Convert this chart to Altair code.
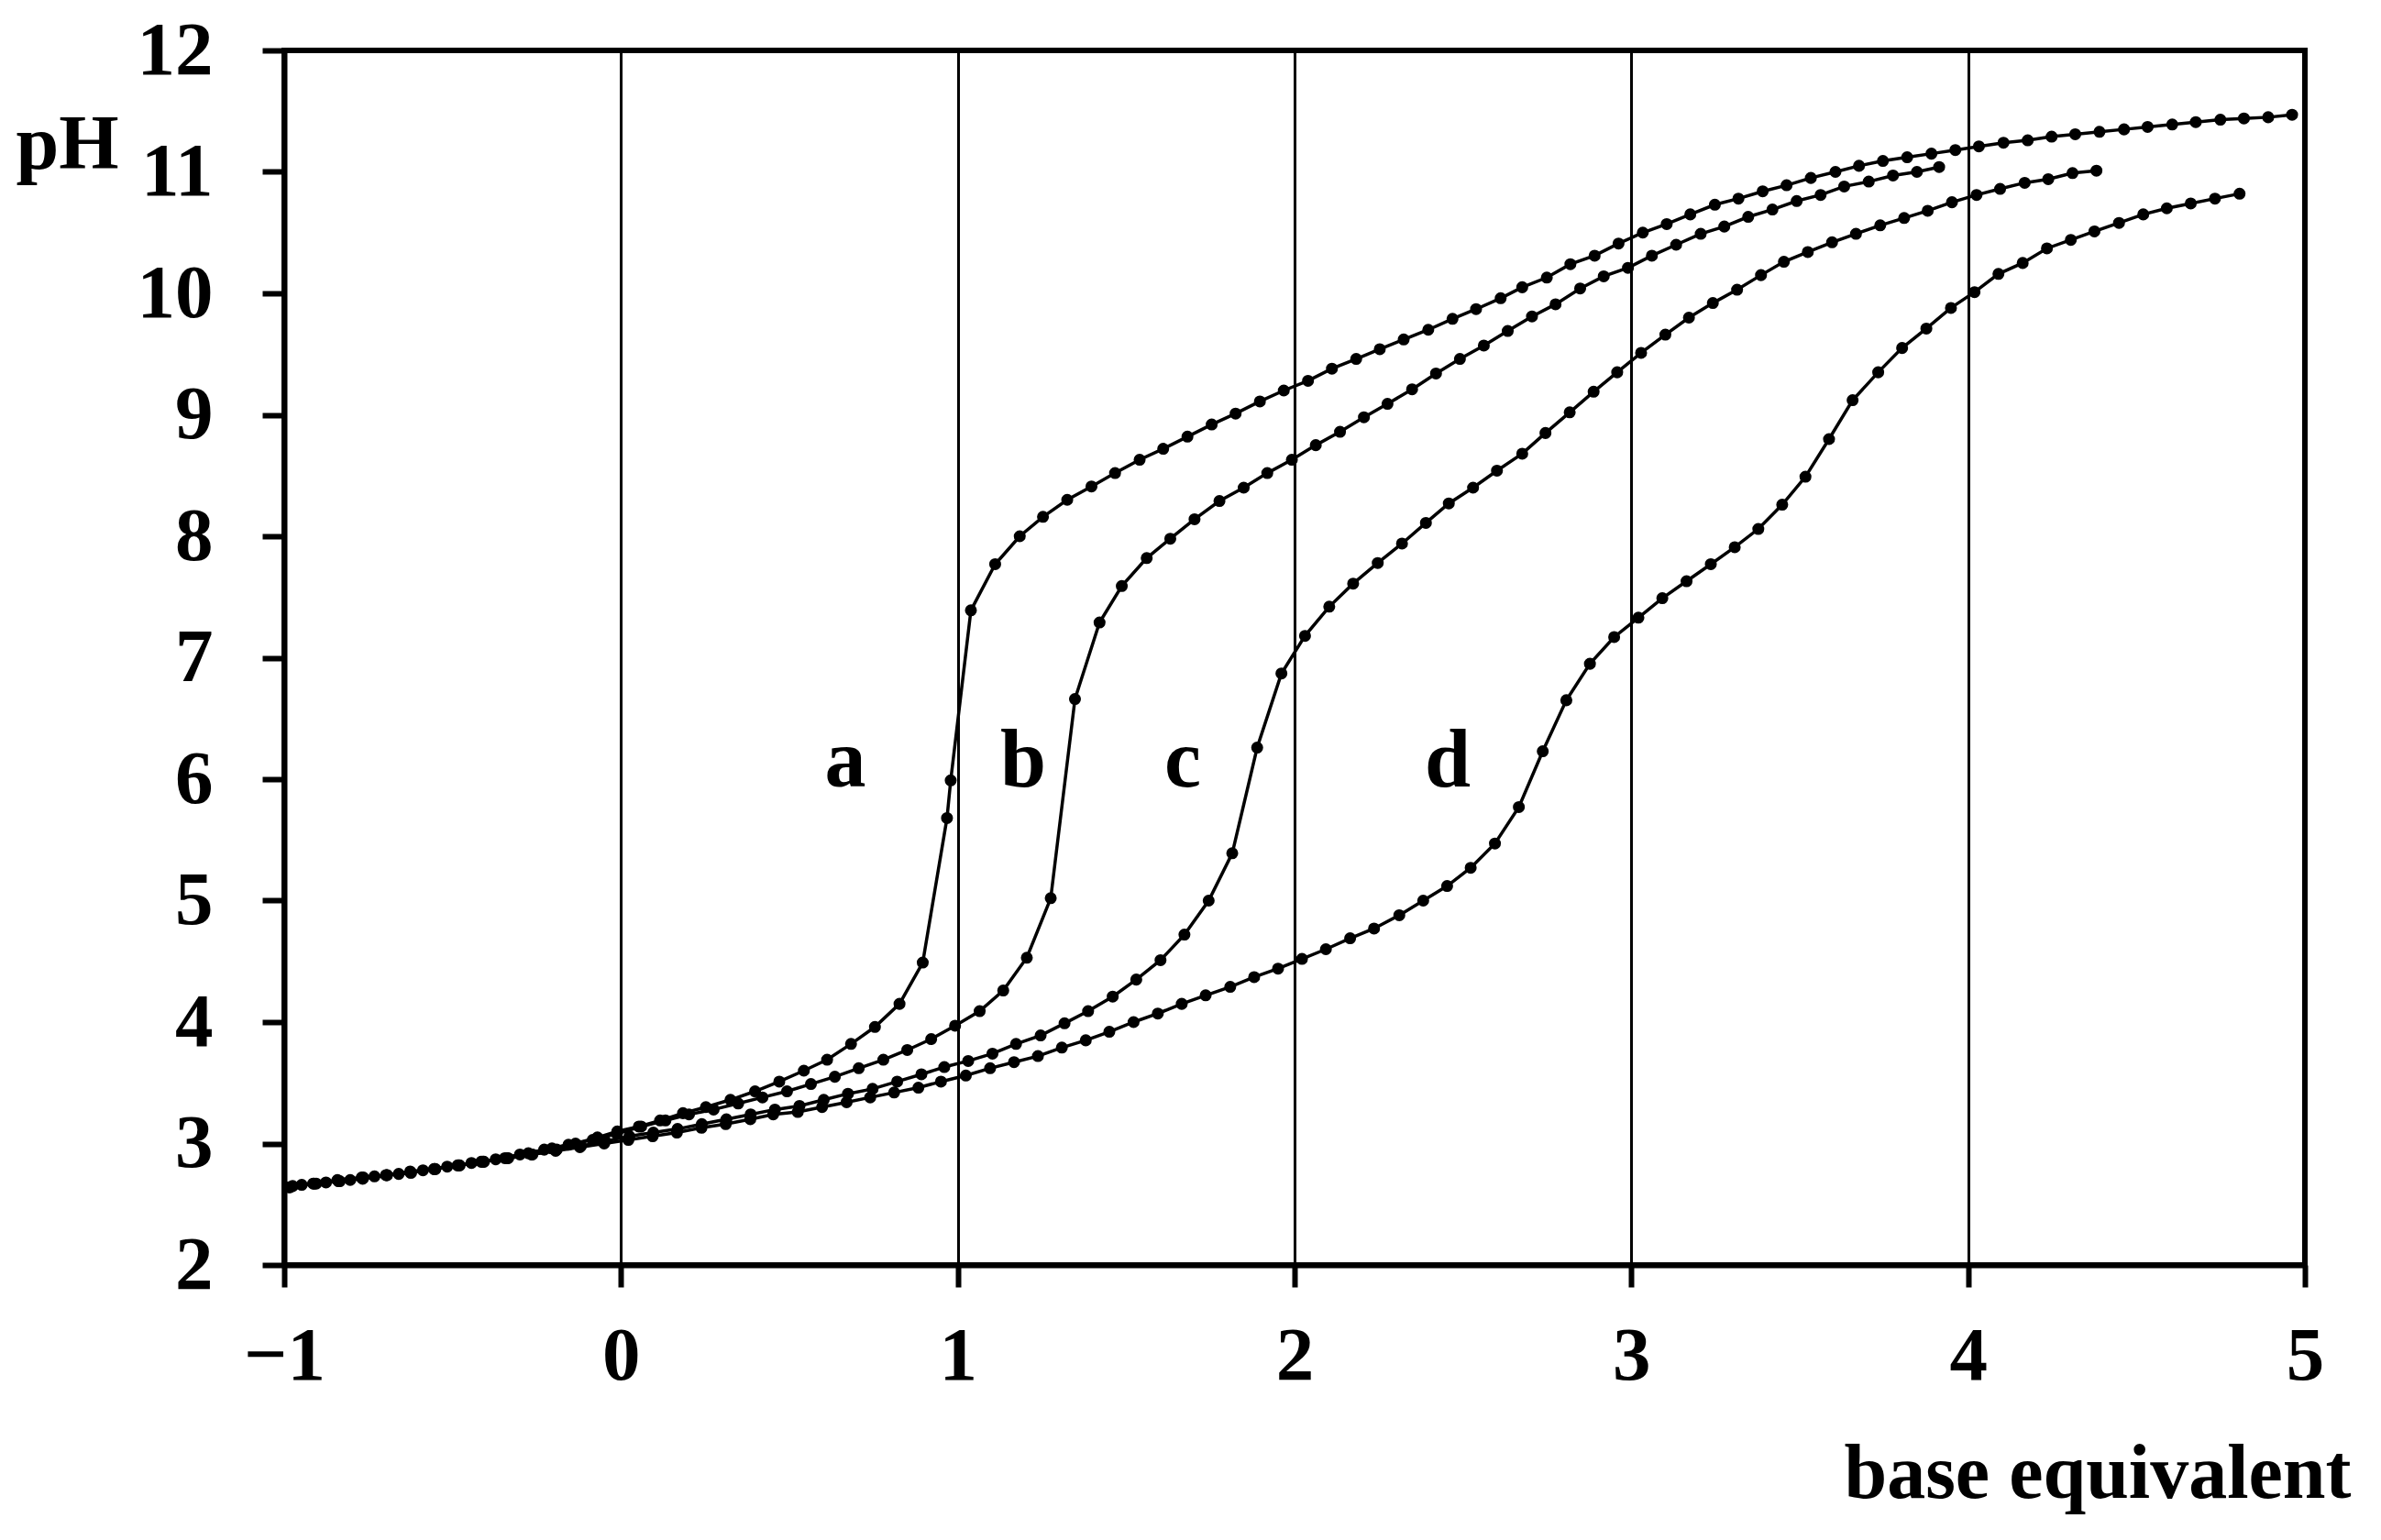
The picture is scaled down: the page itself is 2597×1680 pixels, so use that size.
import altair as alt
import pandas as pd

# ---- data ----
a_x = [-0.975, -0.905, -0.835, -0.765, -0.695, -0.625, -0.555, -0.485, -0.415, -0.345,
       -0.275, -0.205, -0.135, -0.07, -0.011, 0.053, 0.116, 0.184, 0.252, 0.325,
       0.398, 0.470, 0.543, 0.612, 0.683, 0.754, 0.827, 0.896, 0.968, 0.979,
       1.039, 1.111, 1.184, 1.253, 1.325, 1.397, 1.467, 1.540, 1.610, 1.682,
       1.754, 1.825, 1.897, 1.968, 2.040, 2.111, 2.183, 2.253, 2.324, 2.397,
       2.469, 2.539, 2.612, 2.676, 2.749, 2.819, 2.891, 2.962, 3.034, 3.105,
       3.175, 3.248, 3.318, 3.390, 3.461, 3.533, 3.606, 3.676, 3.747, 3.819,
       3.891, 3.962, 4.032, 4.105, 4.177, 4.248, 4.318, 4.390, 4.463, 4.533,
       4.606, 4.676, 4.749, 4.819, 4.891, 4.962]
a_ph = [2.65, 2.67, 2.69, 2.72, 2.74, 2.76, 2.79, 2.82, 2.85, 2.88,
        2.92, 2.96, 3.00, 3.05, 3.10, 3.14, 3.19, 3.25, 3.30, 3.36,
        3.43, 3.51, 3.60, 3.69, 3.82, 3.96, 4.15, 4.49, 5.68, 5.99,
        7.39, 7.77, 8.00, 8.16, 8.30, 8.41, 8.52, 8.63, 8.72, 8.82,
        8.92, 9.01, 9.11, 9.20, 9.28, 9.38, 9.46, 9.54, 9.62, 9.70,
        9.79, 9.87, 9.96, 10.05, 10.13, 10.24, 10.31, 10.41, 10.50, 10.57,
        10.65, 10.73, 10.78, 10.84, 10.89, 10.95, 11.00, 11.05, 11.09, 11.12,
        11.15, 11.18, 11.21, 11.24, 11.26, 11.29, 11.31, 11.33, 11.35, 11.37,
        11.39, 11.41, 11.43, 11.44, 11.45, 11.47]

b_x = [-0.948, -0.876, -0.804, -0.732, -0.660, -0.588, -0.516, -0.444, -0.372, -0.300,
       -0.228, -0.156, -0.084, -0.012, 0.060, 0.132, 0.202, 0.275, 0.348, 0.420,
       0.493, 0.564, 0.635, 0.706, 0.779, 0.850, 0.921, 0.992, 1.065, 1.135,
       1.205, 1.276, 1.348, 1.421, 1.487, 1.561, 1.631, 1.703, 1.777, 1.849,
       1.919, 1.992, 2.063, 2.135, 2.206, 2.276, 2.349, 2.420, 2.491, 2.562,
       2.633, 2.705, 2.775, 2.848, 2.918, 2.990, 3.061, 3.133, 3.206, 3.276,
       3.347, 3.419, 3.491, 3.562, 3.632, 3.705, 3.777, 3.848, 3.914]
b_ph = [2.66, 2.68, 2.70, 2.73, 2.75, 2.78, 2.81, 2.84, 2.87, 2.91,
        2.95, 2.99, 3.03, 3.08, 3.14, 3.19, 3.24, 3.28, 3.33, 3.38,
        3.43, 3.49, 3.55, 3.62, 3.69, 3.77, 3.86, 3.97, 4.09, 4.26,
        4.53, 5.02, 6.66, 7.29, 7.59, 7.82, 7.98, 8.14, 8.29, 8.40,
        8.52, 8.63, 8.75, 8.86, 8.98, 9.09, 9.21, 9.34, 9.46, 9.57,
        9.69, 9.81, 9.91, 10.04, 10.14, 10.21, 10.31, 10.40, 10.49, 10.55,
        10.63, 10.69, 10.76, 10.81, 10.88, 10.92, 10.97, 11.00, 11.04]

c_x = [-0.983, -0.911, -0.839, -0.767, -0.695, -0.623, -0.551, -0.479, -0.407, -0.335,
       -0.263, -0.191, -0.119, -0.047, 0.025, 0.096, 0.168, 0.240, 0.313, 0.385,
       0.457, 0.530, 0.602, 0.674, 0.747, 0.820, 0.892, 0.960, 1.031, 1.103,
       1.173, 1.246, 1.317, 1.387, 1.460, 1.530, 1.602, 1.673, 1.745, 1.815,
       1.889, 1.961, 2.031, 2.103, 2.174, 2.247, 2.319, 2.390, 2.458, 2.530,
       2.601, 2.676, 2.745, 2.817, 2.888, 2.958, 3.029, 3.101, 3.171, 3.242,
       3.314, 3.385, 3.453, 3.524, 3.596, 3.667, 3.739, 3.810, 3.880, 3.952,
       4.025, 4.095, 4.168, 4.238, 4.310, 4.381]
c_ph = [2.64, 2.67, 2.69, 2.71, 2.74, 2.76, 2.79, 2.82, 2.85, 2.88,
        2.91, 2.95, 2.98, 3.02, 3.06, 3.09, 3.12, 3.16, 3.20, 3.24,
        3.28, 3.31, 3.36, 3.41, 3.45, 3.51, 3.57, 3.63, 3.68, 3.74,
        3.82, 3.89, 3.99, 4.09, 4.21, 4.35, 4.51, 4.72, 5.00, 5.39,
        6.26, 6.87, 7.18, 7.42, 7.61, 7.78, 7.94, 8.11, 8.27, 8.40,
        8.54, 8.68, 8.85, 9.02, 9.19, 9.35, 9.51, 9.66, 9.80, 9.92,
        10.03, 10.15, 10.26, 10.34, 10.42, 10.49, 10.56, 10.62, 10.68, 10.75,
        10.81, 10.86, 10.91, 10.94, 10.99, 11.01]

d_x = [-0.986, -0.914, -0.842, -0.770, -0.698, -0.626, -0.554, -0.482, -0.410, -0.338,
       -0.266, -0.194, -0.122, -0.050, 0.022, 0.094, 0.166, 0.239, 0.311, 0.384,
       0.452, 0.525, 0.597, 0.670, 0.740, 0.811, 0.883, 0.950, 1.024, 1.096,
       1.167, 1.238, 1.309, 1.380, 1.450, 1.522, 1.594, 1.665, 1.736, 1.809,
       1.880, 1.951, 2.022, 2.093, 2.165, 2.236, 2.311, 2.382, 2.453, 2.523,
       2.595, 2.666, 2.737, 2.807, 2.877, 2.949, 3.021, 3.092, 3.164, 3.236,
       3.307, 3.377, 3.448, 3.517, 3.587, 3.657, 3.733, 3.804, 3.876, 3.949,
       4.019, 4.090, 4.162, 4.234, 4.305, 4.375, 4.448, 4.520, 4.590, 4.661,
       4.733, 4.806]
d_ph = [2.64, 2.67, 2.70, 2.72, 2.74, 2.77, 2.79, 2.82, 2.85, 2.88,
        2.91, 2.94, 2.97, 3.00, 3.03, 3.06, 3.09, 3.13, 3.16, 3.20,
        3.24, 3.26, 3.30, 3.34, 3.38, 3.42, 3.46, 3.51, 3.56, 3.62,
        3.67, 3.72, 3.79, 3.85, 3.92, 4.00, 4.07, 4.15, 4.22, 4.29,
        4.37, 4.44, 4.52, 4.60, 4.69, 4.77, 4.88, 5.00, 5.12, 5.27,
        5.47, 5.77, 6.23, 6.65, 6.95, 7.17, 7.33, 7.49, 7.63, 7.77,
        7.91, 8.06, 8.26, 8.49, 8.80, 9.12, 9.35, 9.55, 9.71, 9.88,
        10.01, 10.16, 10.25, 10.37, 10.44, 10.51, 10.58, 10.65, 10.70, 10.74,
        10.78, 10.82]

curve_labels = ["a", "b", "c", "d"]
label_x = [0.666, 1.194, 1.668, 2.455]
label_ph = [5.94, 5.94, 5.94, 5.94]

x_ticks = [-1, 0, 1, 2, 3, 4, 5]
y_ticks = [2, 3, 4, 5, 6, 7, 8, 9, 10, 11, 12]

# ---- build tables ----
rows = []
for name, xs, ys in [("a", a_x, a_ph), ("b", b_x, b_ph), ("c", c_x, c_ph), ("d", d_x, d_ph)]:
    for i, (xv, yv) in enumerate(zip(xs, ys)):
        rows.append({"series": name, "idx": i, "x": xv, "pH": yv})
df = pd.DataFrame(rows)
lab = pd.DataFrame({"label": curve_labels, "x": label_x, "pH": label_ph})

FONT = "Liberation Serif"

xscale = alt.Scale(domain=[-1, 5], nice=False, zero=False)
yscale = alt.Scale(domain=[2, 12], nice=False, zero=False)

x_axis = alt.Axis(
    values=x_ticks, format="d", grid=True, gridColor="black", gridWidth=3, gridOpacity=1,
    labelPadding=34, labelFlush=False, labelOverlap=False,
    title="base equivalent", titleFont=FONT, titleFontWeight="bold", titleFontSize=84,
    titleColor="black", titleAlign="right", titleAnchor="end", titleBaseline="alphabetic",
    titleX=2254, titleY=253, titleAngle=0,
)
y_axis = alt.Axis(
    values=y_ticks, format="d", grid=False,
    labelPadding=54, labelFlush=False, labelOverlap=False, labelBaseline="middle",
    title="pH", titleFont=FONT, titleFontWeight="bold", titleFontSize=84,
    titleColor="black", titleAlign="left", titleAnchor="start", titleBaseline="alphabetic",
    titleX=-293, titleY=128, titleAngle=0,
)

lines = alt.Chart(df).mark_line(
    color="black", strokeWidth=3.5,
    point=alt.OverlayMarkDef(filled=True, size=170, color="black", opacity=1),
).encode(
    x=alt.X("x:Q", scale=xscale, axis=x_axis),
    y=alt.Y("pH:Q", scale=yscale, axis=y_axis),
    detail="series:N",
    order="idx:Q",
)

texts = alt.Chart(lab).mark_text(
    font=FONT, fontWeight="bold", fontSize=90, color="black",
    align="center", baseline="alphabetic",
).encode(
    x=alt.X("x:Q", scale=xscale),
    y=alt.Y("pH:Q", scale=yscale),
    text="label:N",
)

chart = alt.layer(lines, texts).properties(
    width=2204, height=1325,
    autosize=alt.AutoSizeParams(type="none"),
    padding={"left": 302, "top": 47, "right": 75, "bottom": 280},
    background="white",
).configure_view(
    stroke="black", strokeWidth=6,
).configure_axis(
    domainColor="black", domainWidth=6, domainOpacity=1,
    tickColor="black", tickWidth=6, tickSize=24, tickOpacity=1,
    labelFont=FONT, labelFontWeight="bold", labelFontSize=83, labelColor="black",
)

chart.save("out.html", embed_options={"renderer": "svg", "actions": False})
